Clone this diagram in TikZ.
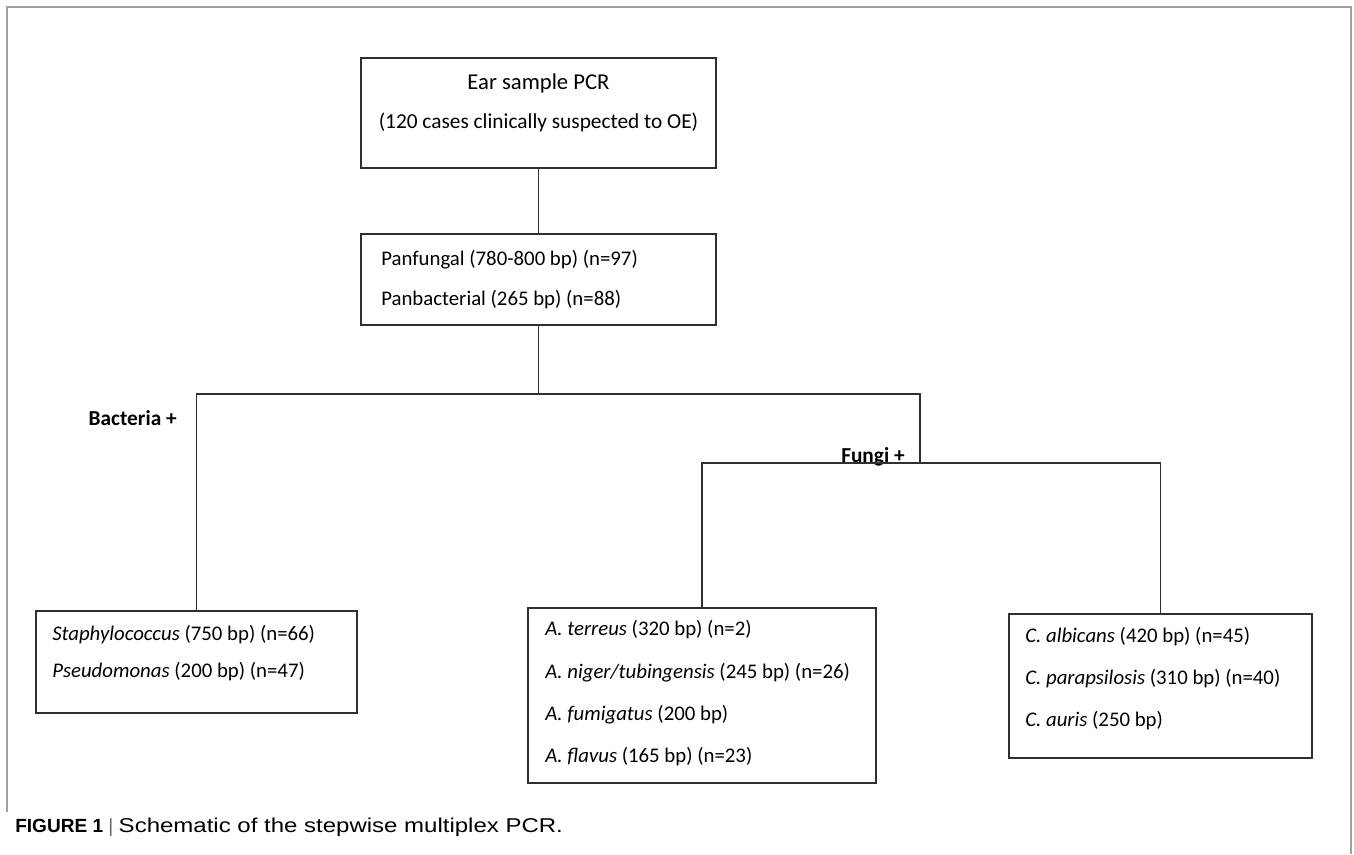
\documentclass[tikz,border=0pt]{standalone}
\usepackage{fontspec}
\setmainfont{Carlito}
\newfontfamily\capfont{Liberation Sans}
\definecolor{linegray}{HTML}{303030}
\definecolor{framegray}{HTML}{A0A0A0}

\begin{document}
\begin{tikzpicture}[x=0.75pt,y=-0.75pt,
  box/.style={draw=linegray, line width=1.4pt, inner sep=0pt, outer sep=0pt},
  txt/.style={anchor=west, align=left, inner sep=0pt, font=\fontsize{15.6}{31.5}\selectfont},
  lbl/.style={anchor=east, inner sep=0pt, font=\fontsize{16}{18}\selectfont\bfseries},
  conn/.style={draw=linegray, line width=1.1pt}]
\useasboundingbox (0,0) rectangle (1354,854);

\draw[framegray, line width=1.1pt] (7,812) -- (7,7) -- (1351,7) -- (1351,854);

\node[box, minimum width=266.25pt, minimum height=82.5pt] (ear) at (538.5,113) {};
\node[txt, anchor=center, align=center, font=\fontsize{16}{29.25}\selectfont] (eartxt) at (538.5,102.5) {{\fontsize{17}{29.25}\selectfont Ear sample PCR}\\(120 cases clinically suspected to OE)};

\node[box, minimum width=266.25pt, minimum height=68.25pt] (pan) at (538.5,279.5) {};
\node[txt, font=\fontsize{15.6}{30}\selectfont] (pantxt) at (381,280) {Panfungal (780-800 bp) (n=97)\\Panbacterial (265 bp) (n=88)};

\coordinate (split) at (538.5,394);
\coordinate (fsplit) at (920,463);

\node[box, minimum width=240.75pt, minimum height=76.5pt] (bact) at (196.5,662) {};
\node[txt, font=\fontsize{15.6}{27.75}\selectfont] (bacttxt) at (52,653.5) {\textit{Staphylococcus} (750 bp) (n=66)\\\textit{Pseudomonas} (200 bp) (n=47)};

\node[box, minimum width=261pt, minimum height=131.25pt] (asp) at (702,695.5) {};
\node[txt, font=\fontsize{15.6}{31.75}\selectfont] (asptxt) at (545,693.5) {\textit{A. terreus} (320 bp) (n=2)\\\textit{A. niger/tubingensis} (245 bp) (n=26)\\\textit{A. fumigatus} (200 bp)\\\textit{A. flavus} (165 bp) (n=23)};

\node[box, minimum width=227.25pt, minimum height=108pt] (cand) at (1160.5,686) {};
\node[txt] (candtxt) at (1025,679) {\textit{C. albicans} (420 bp) (n=45)\\\textit{C. parapsilosis} (310 bp) (n=40)\\\textit{C. auris} (250 bp)};

\node[lbl] (bactlbl) at (177,418) {Bacteria +};
\node[lbl] (fungilbl) at (905,457) {Fungi +};

% connectors
\draw[conn] (ear) -- (pan);
\draw[conn] (pan) -- (split);
\draw[conn] (bact) |- (split) -| (fsplit);
\draw[conn] (asp) |- (fsplit) -| (cand);

\node[anchor=west, inner sep=0pt, font=\capfont\fontsize{14.3}{16}\selectfont] (caption) at (15,827) {\textbf{FIGURE 1} {\color{black!60}|} \scalebox{1.2}[1]{\fontsize{15}{16}\selectfont Schematic of the stepwise multiplex PCR.}};
\end{tikzpicture}
\end{document}
